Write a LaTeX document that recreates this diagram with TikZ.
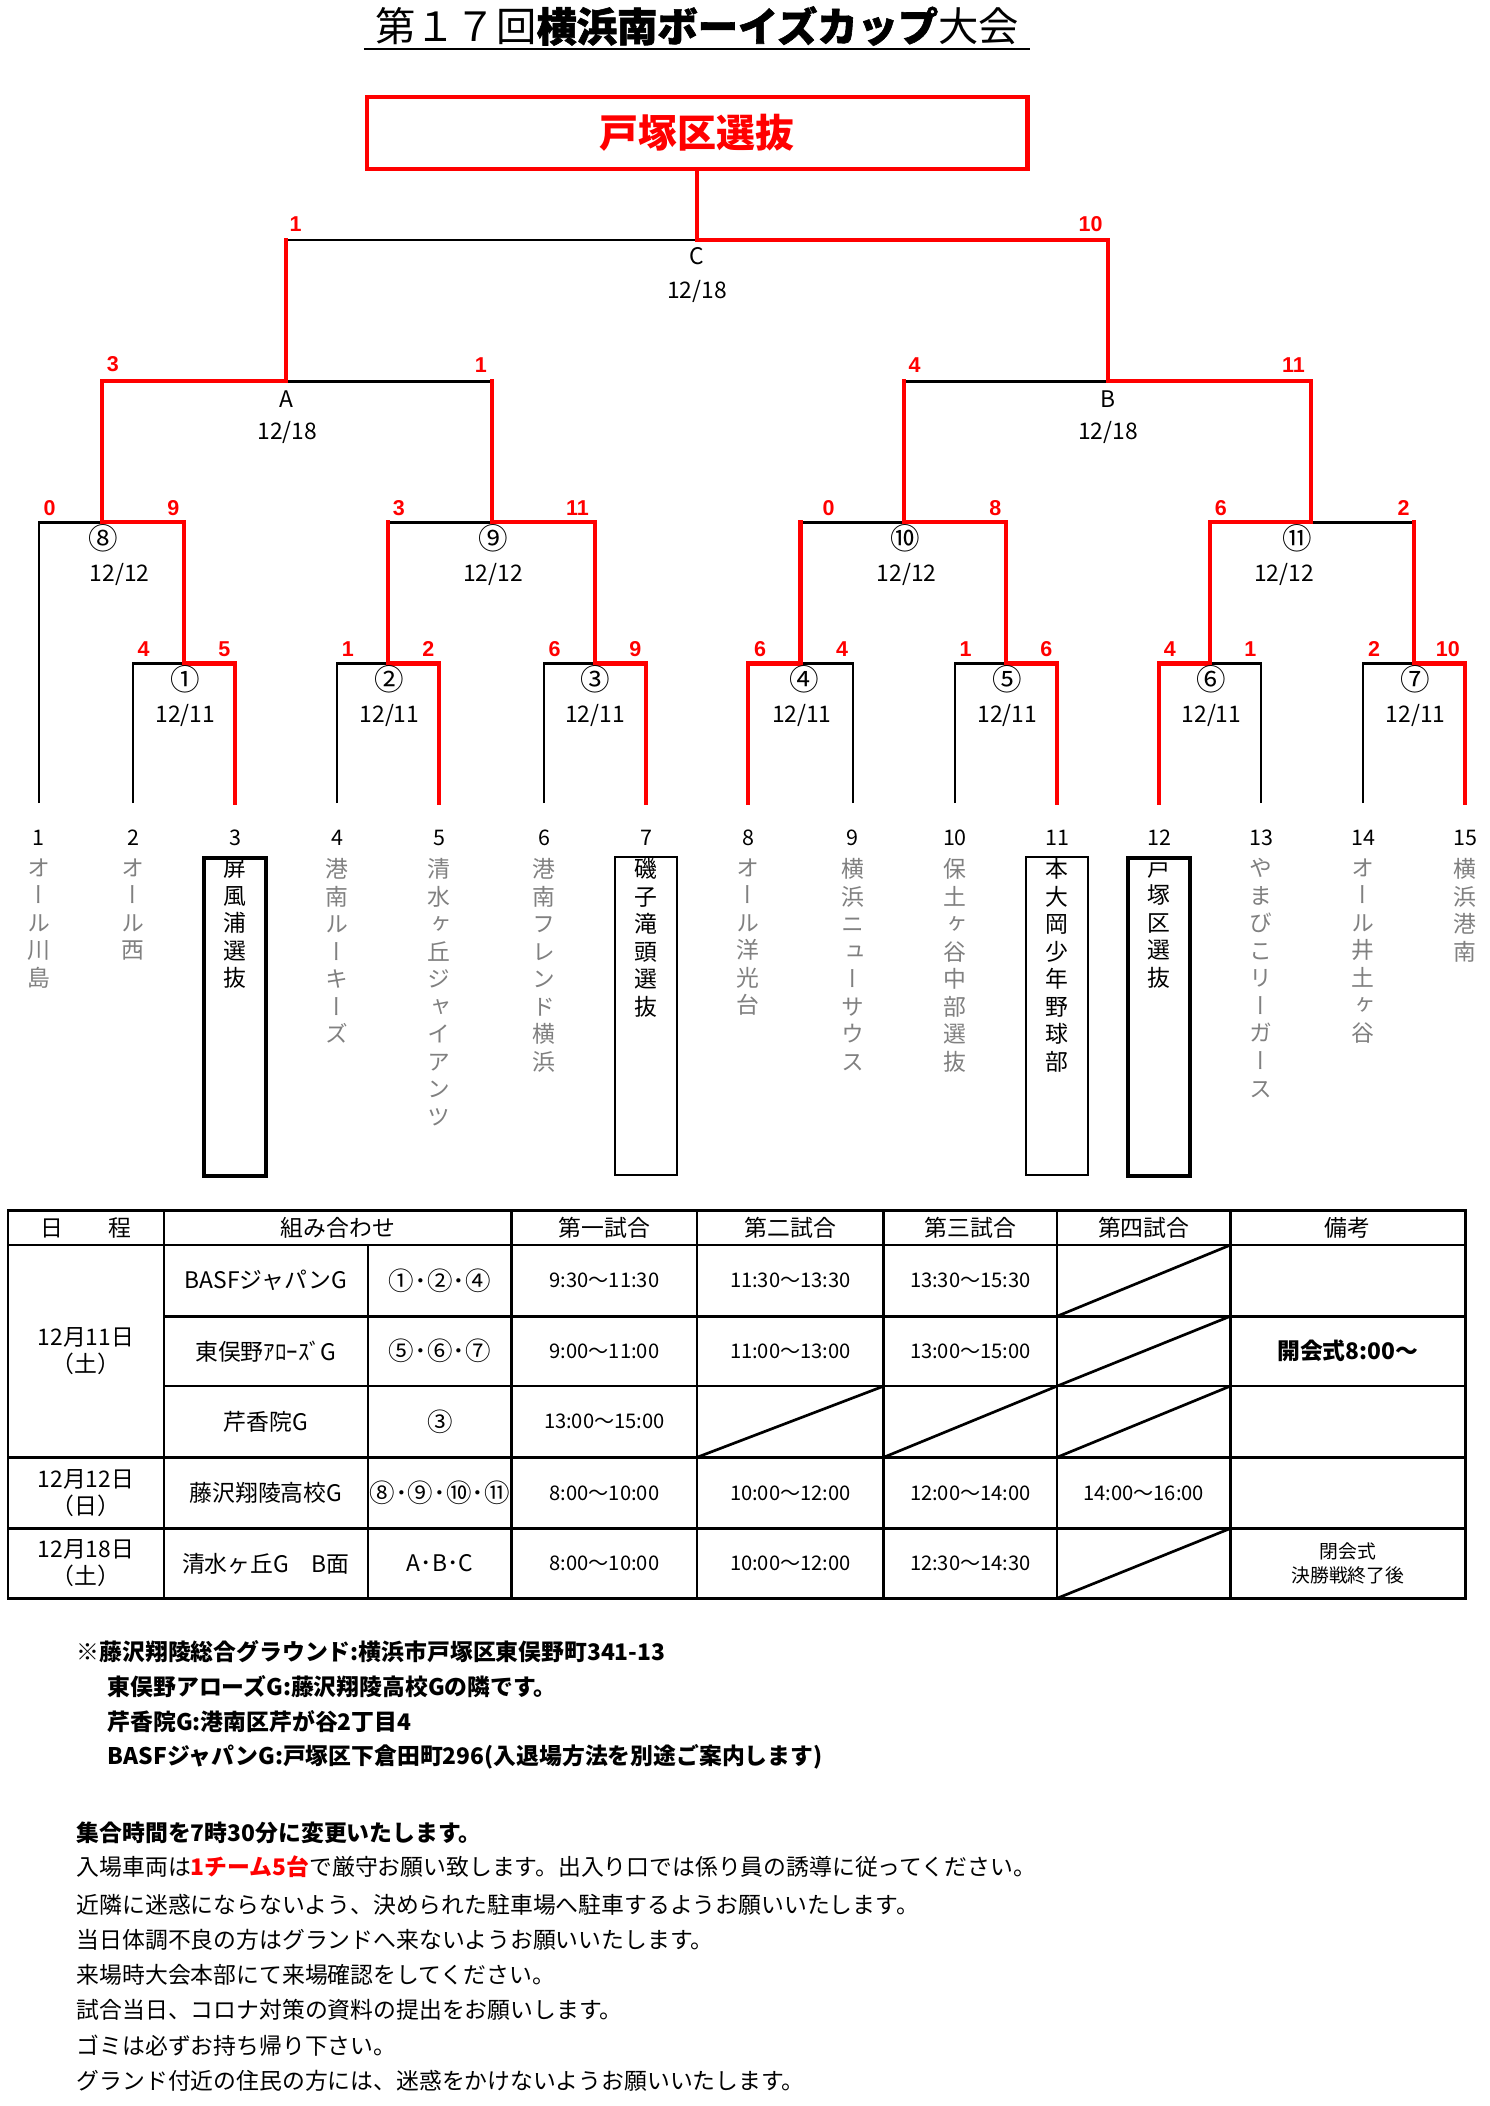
\documentclass[tikz,border=0pt]{standalone}
\usepackage{fontspec}
\setmainfont{Noto Sans CJK JP}
\newfontfamily\jpv{Noto Sans CJK JP}[RawFeature=+vert]
\newfontfamily\scfont{Liberation Sans}
\tikzset{
 lose/.style={draw=black, line width=1.6pt},
 win/.style={draw=red, line width=3pt, line cap=rect},
 score/.style={font=\scfont\bfseries\fontsize{16}{16}\selectfont, text=red, inner sep=0pt},
 mlabel/.style={font=\fontsize{22}{22}\selectfont, inner sep=0pt},
 dlabel/.style={font=\fontsize{17}{17}\selectfont, inner sep=0pt},
 tnum/.style={font=\fontsize{16}{16}\selectfont, inner sep=0pt},
 tname/.style={font=\jpv\fontsize{17}{20.5}\selectfont, align=center, anchor=north, inner sep=0pt, text=gray},
 tnameb/.style={tname, text=black},
 tboxthick/.style={draw=black, line width=3pt, minimum width=46pt, minimum height=237pt, anchor=north, inner sep=0pt},
 tboxthin/.style={draw=black, line width=1.8pt, minimum width=46pt, minimum height=237pt, anchor=north, inner sep=0pt},
 tline/.style={draw=black, line width=2pt},
 cell/.style={font=\fontsize{17}{20}\selectfont, inner sep=0pt, align=center},
 tcell/.style={font=\fontsize{15}{18}\selectfont, inner sep=0pt},
 note/.style={font=\fontsize{17}{17}\selectfont, anchor=west, inner sep=0pt},
 bnote/.style={note, font=\bfseries\fontsize{17}{17}\selectfont},
}
\begin{document}
\begin{tikzpicture}[x=1pt,y=-1pt]
\useasboundingbox[fill=white] (0,0) rectangle (1109,1568);

% ---------- title ----------
\node[inner sep=0pt, anchor=base, font=\fontsize{30}{30}\selectfont] (title) at (519,31)
 {第１７回{\bfseries\addfontfeature{FakeBold=1.5}横浜南ボーイズカップ}大会};
\coordinate (ulL) at (271,36.5);
\coordinate (ulR) at (767,36.5);
\draw[line width=1.6pt] (ulL) -- (ulR);

% ---------- champion ----------
\node[draw=red, line width=3pt, minimum width=492pt, minimum height=54pt, inner sep=0pt,
      text=red, font=\bfseries\fontsize{29}{29}\selectfont] (champ) at (519,99) {戸塚区選抜};

% ---------- team line ends ----------
\foreach \i/\x in {1/29,2/99,3/175,4/251,5/327,6/405,7/481,8/557,9/635,10/711,11/787,12/863,13/939,14/1015,15/1091}{
  \coordinate (t\i) at (\x,598);
  \node[tnum] (n\i) at (\x,624) {\i};
}

% ---------- junctions ----------
\coordinate (m1) at (137,494);
\coordinate (m2) at (289,494);
\coordinate (m3) at (443,494);
\coordinate (m4) at (596,494);
\coordinate (m5) at (749,494);
\coordinate (m6) at (901,494);
\coordinate (m7) at (1053,494);
\coordinate (m8) at (76,389);
\coordinate (m9) at (366,389);
\coordinate (m10) at (673,389);
\coordinate (m11) at (976,389);
\coordinate (mA) at (213,284);
\coordinate (mB) at (825,284);
\coordinate (mC) at (519,179);

% losers (black): team lines and losing halves
\draw[lose] (t2) |- (m1);
\draw[lose] (t4) |- (m2);
\draw[lose] (t6) |- (m3);
\draw[lose] (t9) |- (m4);
\draw[lose] (t10) |- (m5);
\draw[lose] (t13) |- (m6);
\draw[lose] (t14) |- (m7);
\draw[lose] (t1) |- (m8);
\draw[lose] (m2 |- m9) -- (m9);
\draw[lose] (m4 |- m10) -- (m10);
\draw[lose] (m7 |- m11) -- (m11);
\draw[lose] (m9 |- mA) -- (mA);
\draw[lose] (m10 |- mB) -- (mB);
\draw[lose] (mA |- mC) -- (mC);

% winners (red)
\draw[win] (t3) |- (m1);
\draw[win] (t5) |- (m2);
\draw[win] (t7) |- (m3);
\draw[win] (t8) |- (m4);
\draw[win] (t11) |- (m5);
\draw[win] (t12) |- (m6);
\draw[win] (t15) |- (m7);
\draw[win] (m1) |- (m8);
\draw[win] (m3) |- (m9);
\draw[win] (m5) |- (m10);
\draw[win] (m6) |- (m11);
\draw[win] (m8) |- (mA);
\draw[win] (m11) |- (mB);
\draw[win] (mB) |- (mC);
% match winners that lost later: vertical stays red
\draw[win] (m2) -- (m2 |- m9);
\draw[win] (m4) -- (m4 |- m10);
\draw[win] (m7) -- (m7 |- m11);
\draw[win] (m9) -- (m9 |- mA);
\draw[win] (m10) -- (m10 |- mB);
\draw[win] (mA) -- (mA |- mC);
\draw[win] (mC) -- (champ);

% ---------- scores ----------
\node[score] (s1l) at (107,483) {4};   \node[score] (s1r) at (167,483) {5};
\node[score] (s2l) at (259,483) {1};   \node[score] (s2r) at (319,483) {2};
\node[score] (s3l) at (413,483) {6};   \node[score] (s3r) at (473,483) {9};
\node[score] (s4l) at (566,483) {6};   \node[score] (s4r) at (627,483) {4};
\node[score] (s5l) at (719,483) {1};   \node[score] (s5r) at (779,483) {6};
\node[score] (s6l) at (871,483) {4};   \node[score] (s6r) at (931,483) {1};
\node[score] (s7l) at (1023,483) {2};  \node[score] (s7r) at (1078,483) {10};
\node[score] (s8l) at (37,378) {0};    \node[score] (s8r) at (129,378) {9};
\node[score] (s9l) at (297,378) {3};   \node[score] (s9r) at (430,378) {11};
\node[score] (s10l) at (617,378) {0};  \node[score] (s10r) at (741,378) {8};
\node[score] (s11l) at (909,378) {6};  \node[score] (s11r) at (1045,378) {2};
\node[score] (sAl) at (84,271) {3};    \node[score] (sAr) at (358,272) {1};
\node[score] (sBl) at (681,272) {4};   \node[score] (sBr) at (963,272) {11};
\node[score] (sCl) at (220,167) {1};   \node[score] (sCr) at (812,167) {10};

% ---------- match labels ----------
\node[mlabel] (l1) at (138,506) {①};  \node[dlabel] (d1) at (138,533) {12/11};
\node[mlabel] (l2) at (290,506) {②};  \node[dlabel] (d2) at (290,533) {12/11};
\node[mlabel] (l3) at (443,506) {③};  \node[dlabel] (d3) at (443,533) {12/11};
\node[mlabel] (l4) at (599,506) {④};  \node[dlabel] (d4) at (597,533) {12/11};
\node[mlabel] (l5) at (750,506) {⑤};  \node[dlabel] (d5) at (750,533) {12/11};
\node[mlabel] (l6) at (902,506) {⑥};  \node[dlabel] (d6) at (902,533) {12/11};
\node[mlabel] (l7) at (1054,506) {⑦}; \node[dlabel] (d7) at (1054,533) {12/11};
\node[mlabel] (l8) at (77,401) {⑧};   \node[dlabel] (d8) at (89,428) {12/12};
\node[mlabel] (l9) at (367,401) {⑨};  \node[dlabel] (d9) at (367,428) {12/12};
\node[mlabel] (l10) at (674,401) {⑩}; \node[dlabel] (d10) at (675,428) {12/12};
\node[mlabel] (l11) at (966,401) {⑪}; \node[dlabel] (d11) at (956,428) {12/12};
\node[dlabel] (lA) at (213,297) {A};  \node[dlabel] (dA) at (214,322) {12/18};
\node[dlabel] (lB) at (825,297) {B};  \node[dlabel] (dB) at (825,322) {12/18};
\node[dlabel] (lC) at (519,191) {C};  \node[dlabel] (dC) at (519,217) {12/18};

% ---------- team names ----------
\node[tname] (nm1) at (29,639) {オ\\ー\\ル\\川\\島};
\node[tname] (nm2) at (99,639) {オ\\ー\\ル\\西};
\node[tboxthick] (bx3) at (175,637) {};
\node[tnameb] (nm3) at (175,639) {屏\\風\\浦\\選\\抜};
\node[tname] (nm4) at (251,639) {港\\南\\ル\\ー\\キ\\ー\\ズ};
\node[tname] (nm5) at (327,639) {清\\水\\ヶ\\丘\\ジ\\ャ\\イ\\ア\\ン\\ツ};
\node[tname] (nm6) at (405,639) {港\\南\\フ\\レ\\ン\\ド\\横\\浜};
\node[tboxthin] (bx7) at (481,637) {};
\node[tnameb] (nm7) at (481,639) {磯\\子\\滝\\頭\\選\\抜};
\node[tname] (nm8) at (557,639) {オ\\ー\\ル\\洋\\光\\台};
\node[tname] (nm9) at (635,639) {横\\浜\\ニ\\ュ\\ー\\サ\\ウ\\ス};
\node[tname] (nm10) at (711,639) {保\\土\\ヶ\\谷\\中\\部\\選\\抜};
\node[tboxthin] (bx11) at (787,637) {};
\node[tnameb] (nm11) at (787,639) {本\\大\\岡\\少\\年\\野\\球\\部};
\node[tboxthick] (bx12) at (863,637) {};
\node[tnameb] (nm12) at (863,639) {戸\\塚\\区\\選\\抜};
\node[tname] (nm13) at (939,639) {や\\ま\\び\\こ\\リ\\ー\\ガ\\ー\\ス};
\node[tname] (nm14) at (1015,639) {オ\\ー\\ル\\井\\土\\ヶ\\谷};
\node[tname] (nm15) at (1091,639) {横\\浜\\港\\南};

% ---------- schedule table ----------
\draw[tline] (6,901) rectangle (1091,1190);
\draw[tline] (6,927) -- (1091,927);
\draw[tline] (122,980) -- (1091,980);
\draw[tline] (122,1032) -- (1091,1032);
\draw[tline] (6,1085) -- (1091,1085);
\draw[tline] (6,1138) -- (1091,1138);
\foreach \x in {122,381,519,658,787,916}{\draw[tline] (\x,901) -- (\x,1190);}
\draw[tline] (274,927) -- (274,1190);
% slashes
\draw[tline] (787,980) -- (916,927);
\draw[tline] (787,1032) -- (916,980);
\draw[tline] (787,1085) -- (916,1032);
\draw[tline] (519,1085) -- (658,1032);
\draw[tline] (658,1085) -- (787,1032);
\draw[tline] (787,1190) -- (916,1138);

% header
\node[cell] (h1) at (64,914) {日　　程};
\node[cell] (h2) at (251.5,914) {組み合わせ};
\node[cell] (h3) at (450,914) {第一試合};
\node[cell] (h4) at (588.5,914) {第二試合};
\node[cell] (h5) at (722.5,914) {第三試合};
\node[cell] (h6) at (851.5,914) {第四試合};
\node[cell] (h7) at (1003.5,914) {備考};
% dates
\node[cell] (c11) at (64,1006) {12月11日\\（土）};
\node[cell] (c41) at (64,1111.5) {12月12日\\（日）};
\node[cell] (c51) at (64,1164) {12月18日\\（土）};
% venues
\node[cell] (c12) at (198,953.5) {BASFジャパンG};
\node[cell] (c22) at (198,1006) {東俣野ｱﾛｰｽﾞG};
\node[cell] (c32) at (198,1058.5) {芹香院G};
\node[cell] (c42) at (198,1111.5) {藤沢翔陵高校G};
\node[cell] (c52) at (198,1164) {清水ヶ丘G　B面};
% matches
\node[cell, font=\fontsize{19}{20}\selectfont] (c13) at (327.5,953.5) {①･②･④};
\node[cell, font=\fontsize{19}{20}\selectfont] (c23) at (327.5,1006) {⑤･⑥･⑦};
\node[cell, font=\fontsize{19}{20}\selectfont] (c33) at (327.5,1058.5) {③};
\node[cell, font=\fontsize{19}{20}\selectfont] (c43) at (327.5,1111.5) {⑧･⑨･⑩･⑪};
\node[cell] (c53) at (327.5,1164) {A･B･C};
% times
\node[tcell] (c14) at (450,953.5) {9:30～11:30};
\node[tcell] (c15) at (588.5,953.5) {11:30～13:30};
\node[tcell] (c16) at (722.5,953.5) {13:30～15:30};
\node[tcell] (c24) at (450,1006) {9:00～11:00};
\node[tcell] (c25) at (588.5,1006) {11:00～13:00};
\node[tcell] (c26) at (722.5,1006) {13:00～15:00};
\node[tcell] (c34) at (450,1058.5) {13:00～15:00};
\node[tcell] (c44) at (450,1111.5) {8:00～10:00};
\node[tcell] (c45) at (588.5,1111.5) {10:00～12:00};
\node[tcell] (c46) at (722.5,1111.5) {12:00～14:00};
\node[tcell] (c47) at (851.5,1111.5) {14:00～16:00};
\node[tcell] (c54) at (450,1164) {8:00～10:00};
\node[tcell] (c55) at (588.5,1164) {10:00～12:00};
\node[tcell] (c56) at (722.5,1164) {12:30～14:30};
% remarks
\node[cell, font=\bfseries\fontsize{17}{20}\selectfont] (c28) at (1003.5,1006) {開会式8:00～};
\node[cell, font=\fontsize{14}{18}\selectfont] (c58) at (1003.5,1164) {閉会式\\決勝戦終了後};

% ---------- notes ----------
\node[bnote] (p1) at (57,1230) {※藤沢翔陵総合グラウンド:横浜市戸塚区東俣野町341-13};
\node[bnote] (p2) at (80,1256) {東俣野アローズG:藤沢翔陵高校Gの隣です。};
\node[bnote] (p3) at (80,1282) {芹香院G:港南区芹が谷2丁目4};
\node[bnote] (p4) at (80,1308) {BASFジャパンG:戸塚区下倉田町296(入退場方法を別途ご案内します)};
\node[bnote] (p5) at (57,1365) {集合時間を7時30分に変更いたします。};
\node[note] (p6) at (57,1390) {入場車両は{\color{red}\bfseries 1チーム5台}で厳守お願い致します。出入り口では係り員の誘導に従ってください。};
\node[note] (p7) at (57,1418) {近隣に迷惑にならないよう、決められた駐車場へ駐車するようお願いいたします。};
\node[note] (p8) at (57,1444) {当日体調不良の方はグランドへ来ないようお願いいたします。};
\node[note] (p9) at (57,1470) {来場時大会本部にて来場確認をしてください。};
\node[note] (p10) at (57,1496) {試合当日、コロナ対策の資料の提出をお願いします。};
\node[note] (p11) at (57,1523) {ゴミは必ずお持ち帰り下さい。};
\node[note] (p12) at (57,1549) {グランド付近の住民の方には、迷惑をかけないようお願いいたします。};
\end{tikzpicture}
\end{document}
